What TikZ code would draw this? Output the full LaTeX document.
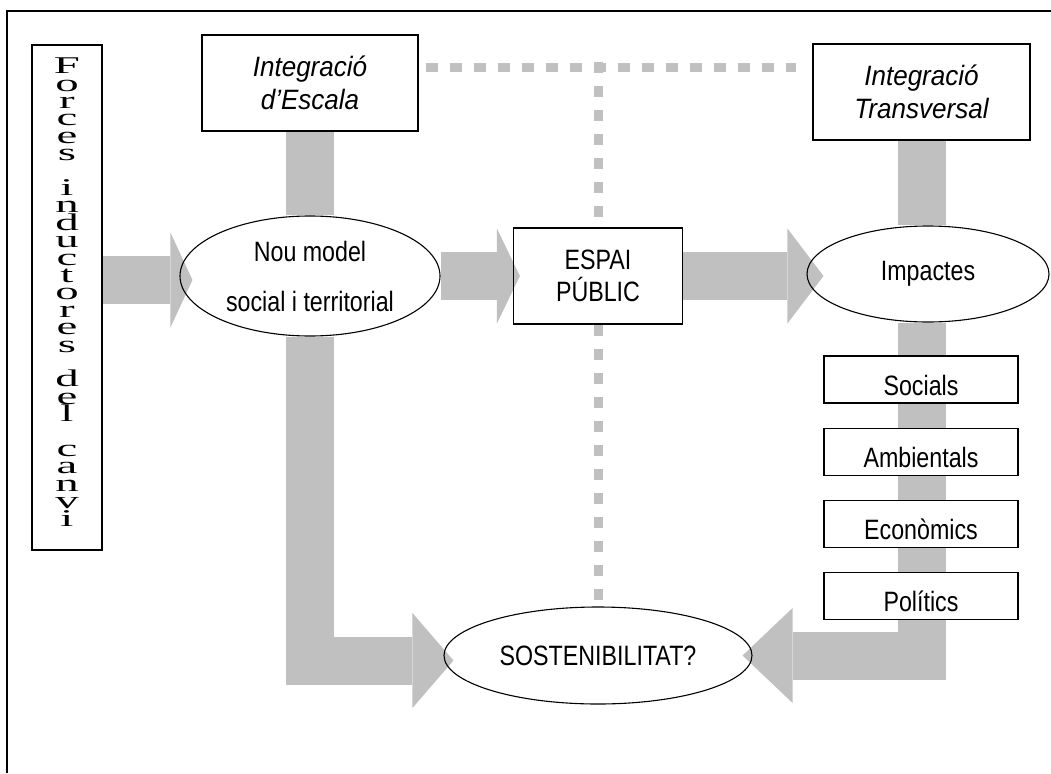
\documentclass[tikz,border=0pt]{standalone}
\usepackage{graphicx}
\usepackage{fontspec}
\setmainfont{Liberation Serif}
\setsansfont{Liberation Sans}
\newfontfamily\narrowsans[FakeStretch=0.83]{Liberation Sans}
\newfontfamily\widesans[FakeStretch=0.93, ItalicFeatures={FakeStretch=0.93}]{Liberation Sans}
\usetikzlibrary{shapes.geometric, arrows.meta, positioning, backgrounds}
\definecolor{bargray}{RGB}{192,192,192}
\newcommand{\letterstack}[1]{\scalebox{1.95}[1]{\vbox{\baselineskip=17.4pt\lineskiplimit=-100pt\halign{\hfil##\hfil\cr#1\crcr}\kern11pt}}}

\begin{document}
\begin{tikzpicture}[
    x=1pt, y=1pt,
    box/.style={rectangle, draw, line width=1.2pt, inner sep=0pt, font=\narrowsans\fontsize{28}{32}\selectfont},
    oval/.style={ellipse, draw, line width=1.1pt, inner sep=0pt, align=center, font=\narrowsans\fontsize{28}{32}\selectfont},
    integr/.style={box, align=center, minimum width=216pt, minimum height=96pt, font=\widesans\itshape\fontsize{28}{33}\selectfont},
    impact/.style={box, fill=white, minimum width=194pt, minimum height=47pt, text height=31pt, text depth=0pt},
    bar/.style={draw=bargray, line width=48pt},
    flow/.style={bar, line join=miter, -{Triangle[length=#1, width=95pt, line width=0pt]}},
    dotline/.style={draw=bargray, line width=9pt, dash pattern=on 11.5pt off 12.5pt}
]
    \useasboundingbox (0,0) rectangle (1051,-773);
    \draw[line width=2pt] (7,-773) -- (7,-11) -- (1051,-11);

    \node[box, minimum width=70pt, minimum height=505pt, font=\rmfamily\fontsize{24}{17.4}\selectfont] (forces) at (67,-297.5) {\letterstack{F\cr o\cr r\cr c\cr e\cr s\cr\cr i\cr n\cr d\cr u\cr c\cr t\cr o\cr r\cr e\cr s\cr\cr d\cr e\cr l\cr\cr c\cr a\cr n\cr v\cr i}};
    \node[integr] (escala) at (310,-83) {Integració\\d’Escala};
    \node[integr, minimum width=217pt] (transversal) at (921.5,-92) {Integració\\Transversal};
    \node[oval, minimum width=260pt, minimum height=120pt] (nou) at (310,-276) {Nou model\\[18pt]social i territorial};
    \node[box, align=center, minimum width=169pt, minimum height=96pt] (espai) at (598,-276) {ESPAI\\PÚBLIC};
    \node[oval, minimum width=242pt, minimum height=96pt] (impactes) at (928,-274) {Impactes};
    \node[impact] (socials) at (921,-379.5) {Socials};
    \node[impact, below=24pt of socials] (ambientals) {Ambientals};
    \node[impact, below=24pt of ambientals] (economics) {Econòmics};
    \node[impact, below=24pt of economics] (politics) {Polítics};
    \node[oval, minimum width=308pt, minimum height=97pt] (sost) at (598,-655.5) {SOSTENIBILITAT?};
    \coordinate (cross) at (598,-67.5);

    % Gray arrows and dotted links behind the nodes
    \begin{scope}[on background layer]
        \draw[dotline] ([xshift=7.5pt]escala.east |- cross) -- ([xshift=-16pt]transversal.west |- cross);
        \draw[dotline] ([yshift=5.75pt]cross) -- (espai.north);
        \draw[dotline] (espai.south) -- (espai.south |- sost.north);
        \draw[bar] (escala.south) -- (nou.north);
        \draw[bar] (transversal.south) -- (transversal.south |- impactes.north);
        \draw[flow=22pt] ([yshift=-4pt]forces.east |- nou.west) -- ([xshift=13pt,yshift=-4pt]nou.west);
        \draw[flow=23pt] (nou.east) -- ([xshift=7pt]espai.west);
        \draw[flow=36pt] (espai.east) -- ([xshift=17pt]espai.east -| impactes.west);
        \draw[flow=41pt] (nou.south) |- ([xshift=10pt,yshift=-5pt]sost.west);
        \draw[flow=50pt] (transversal.south |- impactes.south) |- ([xshift=-10pt]sost.east);
    \end{scope}
\end{tikzpicture}
\end{document}
